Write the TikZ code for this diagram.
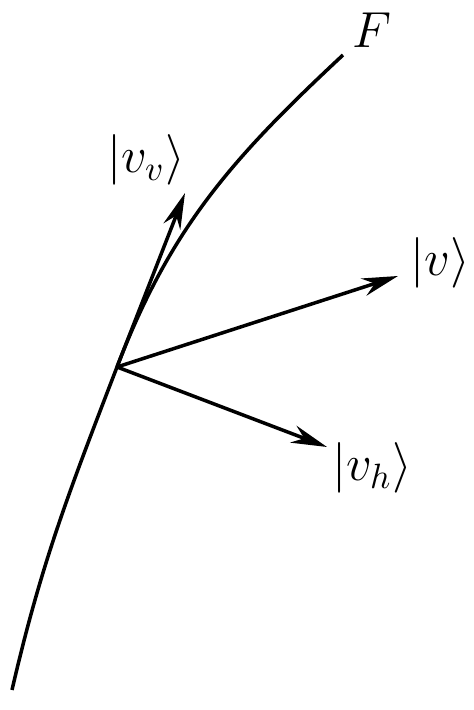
\documentclass[tikz,border=0pt]{standalone}
\usetikzlibrary{arrows.meta}

\begin{document}
\begin{tikzpicture}[vec/.style={line width=1pt, -{Stealth[length=3.6mm, width=1.8mm]}},
    lbl/.style={font=\Large}]
    \useasboundingbox (0,0) rectangle (4.74,7.10);
    \coordinate (p) at (1.17,3.43);
    \coordinate (bot) at (0.12,0.20);
    \coordinate (top) at (3.43,6.55);
    \draw[line width=1pt] (bot) to[out=77,in=249] (p) to[out=69,in=223] (top);
    \node[lbl] (F) at (3.72,6.80) {$F$};
    \coordinate (vvtip) at (1.85,5.17);
    \coordinate (vtip) at (3.98,4.34);
    \coordinate (vhtip) at (3.27,2.63);
    \node[lbl] (vv) at (1.46,5.50) {$|v_v\rangle$};
    \node[lbl] (v) at (4.40,4.47) {$|v\rangle$};
    \node[lbl] (vh) at (3.72,2.42) {$|v_h\rangle$};
    \foreach \t in {vvtip,vtip,vhtip}
    \draw[vec] (p) -- (\t);
\end{tikzpicture}
\end{document}
